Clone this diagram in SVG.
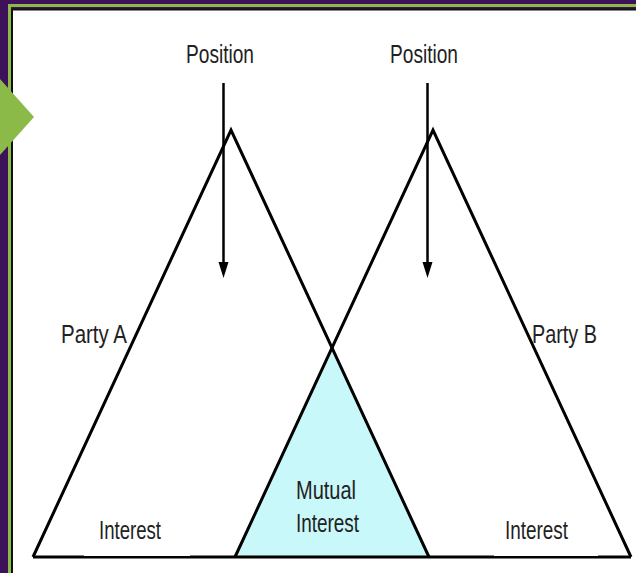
<svg xmlns="http://www.w3.org/2000/svg" width="636" height="573" viewBox="0 0 636 573">
  <style>
    .edge { fill: none; stroke: #000; stroke-width: 3; stroke-linejoin: miter; }
    .lbl { font-family: "Liberation Sans", Arial, sans-serif; font-size: 25px; fill: #222; }
    .shaft { stroke: #000; stroke-width: 2.5; }
    .head { fill: #000; }
  </style>
  <!-- background frame -->
  <rect x="0" y="0" width="636" height="573" fill="#3e1259"/>
  <rect x="9.5" y="5.5" width="640" height="580" fill="none" stroke="#8cba48" stroke-width="3"/>
  <rect x="12" y="9.5" width="640" height="580" fill="#ffffff" stroke="#111" stroke-width="2"/>

  <!-- mutual interest area -->
  <g id="mutual">
    <polygon points="332,348 235,557 429,557" fill="#c9f8fa"/>
  </g>

  <!-- Party A triangle -->
  <g id="partyA">
    <polyline class="edge" points="33,557 231,130 429,557"/>
  </g>
  <!-- Party B triangle -->
  <g id="partyB">
    <polyline class="edge" points="235,557 433,130 631,557"/>
  </g>
  <!-- base line -->
  <g id="base">
    <line x1="33" y1="557" x2="631" y2="557" stroke="#000" stroke-width="3"/>
    <rect x="84" y="500" width="106" height="56" fill="#fff"/>
    <rect x="494" y="500" width="104" height="56" fill="#fff"/>
  </g>

  <!-- connectors -->
  <g id="connectors">
    <line class="shaft" x1="223.5" y1="83" x2="223.5" y2="264"/>
    <polygon class="head" points="218.5,262 228.5,262 223.5,278"/>
    <line class="shaft" x1="427.5" y1="83" x2="427.5" y2="264"/>
    <polygon class="head" points="422.5,262 432.5,262 427.5,278"/>
  </g>

  <!-- labels -->
  <g id="label-position-a"><text class="lbl" x="186" y="63" textLength="68" lengthAdjust="spacingAndGlyphs">Position</text></g>
  <g id="label-position-b"><text class="lbl" x="390" y="63" textLength="68" lengthAdjust="spacingAndGlyphs">Position</text></g>
  <g id="label-party-a"><text class="lbl" x="61" y="343" textLength="66" lengthAdjust="spacingAndGlyphs">Party A</text></g>
  <g id="label-party-b"><text class="lbl" x="532" y="343" textLength="65" lengthAdjust="spacingAndGlyphs">Party B</text></g>
  <g id="label-interest-a"><text class="lbl" x="99" y="539" textLength="62" lengthAdjust="spacingAndGlyphs">Interest</text></g>
  <g id="label-mutual">
    <text class="lbl" x="296" y="499" textLength="60" lengthAdjust="spacingAndGlyphs">Mutual</text>
    <text class="lbl" x="296" y="532" textLength="63" lengthAdjust="spacingAndGlyphs">Interest</text>
  </g>
  <g id="label-interest-b"><text class="lbl" x="505" y="539" textLength="63" lengthAdjust="spacingAndGlyphs">Interest</text></g>

  <!-- green chevron -->
  <g id="chevron">
    <polygon points="0,79 34,117 0,155" fill="#8cba48"/>
  </g>
</svg>
